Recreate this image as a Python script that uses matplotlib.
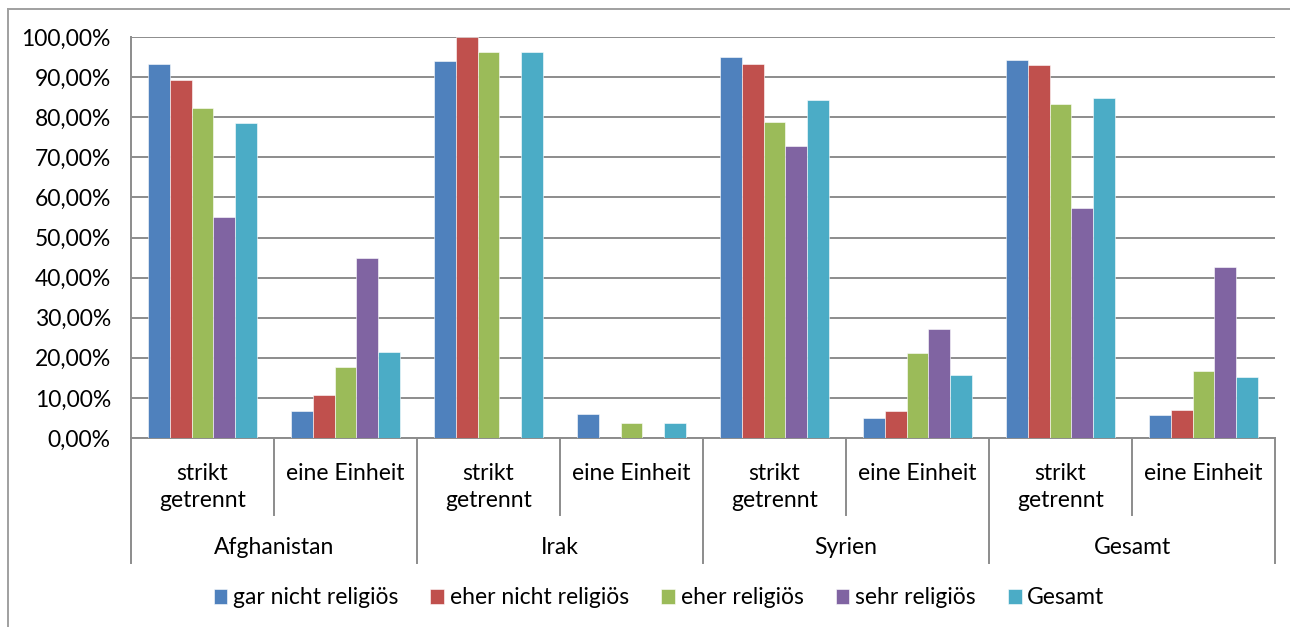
import matplotlib.pyplot as plt
import numpy as np
from matplotlib.lines import Line2D
from matplotlib.ticker import FuncFormatter
import matplotlib.transforms as mtransforms

# ---------------- data ----------------
COUNTRIES = ["Afghanistan", "Irak", "Syrien", "Gesamt"]
ANSWERS = ["strikt\ngetrennt", "eine Einheit"]

SERIES = ["gar nicht religiös", "eher nicht religiös", "eher religiös", "sehr religiös", "Gesamt"]

# one value per (country, answer): Afg strikt, Afg Einheit, Irak strikt, ...
gar_nicht = [93.3, 6.7, 94.0, 6.0, 95.0, 5.0, 94.3, 5.7]
eher_nicht = [89.2, 10.8, 100.0, 0.0, 93.3, 6.7, 93.0, 7.0]
eher_rel = [82.2, 17.8, 96.3, 3.7, 78.9, 21.1, 83.2, 16.8]
sehr_rel = [55.0, 45.0, 0.0, 0.0, 72.7, 27.3, 57.3, 42.7]
gesamt = [78.6, 21.4, 96.3, 3.7, 84.2, 15.8, 84.8, 15.2]

VALUES = [gar_nicht, eher_nicht, eher_rel, sehr_rel, gesamt]
COLORS = ["#4F81BD", "#C0504D", "#9BBB59", "#8064A2", "#4BACC6"]

FS = 16.5

# ---- global style ----
plt.rcParams["font.family"] = "Lato"
plt.rcParams["font.size"] = FS

W, H = 1290, 627
fig = plt.figure(figsize=(W / 100, H / 100), dpi=100)

# plot area in pixel coords
left, right, top, bottom = 131, 1275, 37, 438
ax = fig.add_axes([left / W, 1 - bottom / H, (right - left) / W, (bottom - top) / H])

n_cat = len(COUNTRIES) * len(ANSWERS)
x = np.arange(n_cat)
bar_w = 0.1525
for i, (name, vals) in enumerate(zip(SERIES, VALUES)):
    offs = (i - 2) * bar_w
    ax.bar(x + offs, np.array(vals) / 100, width=bar_w, color=COLORS[i],
           edgecolor="white", linewidth=0.4, label=name, zorder=3)

ax.set_xlim(-0.5, n_cat - 0.5)
ax.set_ylim(0, 1)
ax.set_yticks(np.arange(0, 1.01, 0.1))
ax.yaxis.set_major_formatter(FuncFormatter(lambda v, p: f"{v * 100:.2f}%".replace(".", ",")))
ax.tick_params(axis="y", length=0, pad=14.5, labelsize=FS)
ax.set_xticks([])
ax.grid(axis="y", color="#8c8c8c", linewidth=1.4, zorder=0)

for s in ["top", "right"]:
    ax.spines[s].set_visible(False)
for s in ["left", "bottom"]:
    ax.spines[s].set_color("#8c8c8c")
    ax.spines[s].set_linewidth(1.4)

# ---- two-level category axis ----
trans = mtransforms.blended_transform_factory(ax.transData, ax.transAxes)
ph = bottom - top
inner_end = -(515 - bottom) / ph
outer_end = -(563 - bottom) / ph
for b in np.arange(-0.5, n_cat, 1.0):
    is_outer = int(b + 0.5) % 2 == 0
    y_end = outer_end if is_outer else inner_end
    ax.add_line(Line2D([b, b], [0, y_end], transform=trans, color="#8c8c8c",
                       linewidth=1.4, clip_on=False))

for k in range(n_cat):
    ax.text(x[k], -(463 - bottom) / ph, ANSWERS[k % 2], transform=trans,
            ha="center", va="top", fontsize=FS, linespacing=1.35)
for c, name in enumerate(COUNTRIES):
    ax.text(2 * c + 0.5, -(548 - bottom) / ph, name, transform=trans,
            ha="center", va="center", fontsize=FS)

# ---- legend ----
fig.legend(loc="center", bbox_to_anchor=(659 / W, 1 - 598 / H), ncol=5,
           frameon=False, fontsize=FS, handlelength=0.6, handleheight=0.6,
           handletextpad=0.25, columnspacing=1.4)

# ---- outer chart border (left + top only visible) ----
fig.add_artist(Line2D([8 / W, 8 / W], [0, 1 - 9 / H], transform=fig.transFigure,
                      color="#a0a0a0", linewidth=1.4))
fig.add_artist(Line2D([8 / W, 1], [1 - 9 / H, 1 - 9 / H], transform=fig.transFigure,
                      color="#a0a0a0", linewidth=1.4))

fig.savefig("out.png", dpi=100)
